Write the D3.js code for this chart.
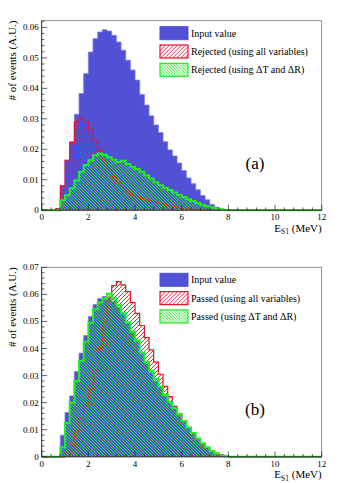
<!DOCTYPE html>
<html>
<head>
<meta charset="utf-8">
<script src="https://cdn.jsdelivr.net/npm/d3@7"></script>
<style>
  body { margin: 0; background: #fff; }
  svg { display: block; }
</style>
</head>
<body>
<div id="chart"></div>
<script>
// bins of 0.2 MeV from 0 to 12 MeV; values listed for the first 40 bins (0-8 MeV), rest empty
var binWidth = 0.2;
var nBins = 60;

var inputValue = [0, 0, 0, 0, 0.008, 0.0164, 0.0225, 0.0315, 0.0383, 0.0448,
  0.0519, 0.0563, 0.0585, 0.0592, 0.0588, 0.0574, 0.0552, 0.0525, 0.0492, 0.046,
  0.0427, 0.038, 0.0345, 0.031, 0.028, 0.0255, 0.0225, 0.0198, 0.0178, 0.0155,
  0.013, 0.0106, 0.0087, 0.0067, 0.0048, 0.0034, 0.0019, 0.001, 0.0004, 0.0001];

var rejectedAll = [0, 0, 0, 0.0005, 0.008, 0.0164, 0.0222, 0.029, 0.0303, 0.029,
  0.0265, 0.023, 0.0195, 0.0165, 0.0135, 0.011, 0.009, 0.0075, 0.0062, 0.0052,
  0.0045, 0.0039, 0.0034, 0.003, 0.0026, 0.0022, 0.0018, 0.0014, 0.0011, 0.0008,
  0.0006, 0.0004, 0.0003, 0.0002, 0.0001, 0, 0, 0, 0, 0];

var rejectedDTDR = [0, 0, 0, 0, 0.0033, 0.0049, 0.0072, 0.0098, 0.0126, 0.0148,
  0.0164, 0.018, 0.0186, 0.0182, 0.0174, 0.0166, 0.0158, 0.0162, 0.0152, 0.0143,
  0.0135, 0.0126, 0.0115, 0.0104, 0.0092, 0.0082, 0.0074, 0.0066, 0.0058, 0.005,
  0.0043, 0.0036, 0.003, 0.0024, 0.0018, 0.0013, 0.0009, 0.0005, 0.0003, 0.0001];

var passedAll = [0, 0, 0, 0, 0, 0.0015, 0.0045, 0.0095, 0.014, 0.019,
  0.025, 0.032, 0.04, 0.0495, 0.059, 0.0632, 0.0647, 0.0635, 0.061, 0.057,
  0.053, 0.0485, 0.044, 0.0395, 0.035, 0.0305, 0.026, 0.0222, 0.0186, 0.0158,
  0.013, 0.0105, 0.0083, 0.0064, 0.0047, 0.0033, 0.0022, 0.0013, 0.0007, 0.0003];

var passedDTDR = [0, 0, 0, 0, 0.0035, 0.0125, 0.02, 0.028, 0.0355, 0.0425,
  0.0495, 0.0545, 0.057, 0.0585, 0.0602, 0.0585, 0.056, 0.053, 0.0497, 0.0462,
  0.043, 0.0385, 0.035, 0.0318, 0.0287, 0.026, 0.023, 0.0203, 0.018, 0.0157,
  0.0132, 0.0108, 0.0088, 0.0068, 0.005, 0.0035, 0.0021, 0.0012, 0.0005, 0.0002];

var xTicks = [0, 2, 4, 6, 8, 10, 12];

var panels = [
  {top: 20.7, ymax: 0.0622, yTicks: [0, 0.01, 0.02, 0.03, 0.04, 0.05, 0.06], tag: "(a)",
   series: [inputValue, rejectedAll, rejectedDTDR],
   labels: ["Input value", "Rejected (using all variables)", "Rejected (using \u0394T and \u0394R)"]},
  {top: 267.3, ymax: 0.07, yTicks: [0, 0.01, 0.02, 0.03, 0.04, 0.05, 0.06, 0.07], tag: "(b)",
   series: [inputValue, passedAll, passedDTDR],
   labels: ["Input value", "Passed (using all variables)", "Passed (using \u0394T and \u0394R)"]}
];

var width = 355, height = 483;
var left = 41.7, right = 321.7, plotH = 189.5;
var blue = "#5151d6", red = "#e8132e", green = "#22ec22";
var serif = "'Liberation Serif', 'Times New Roman', 'DejaVu Serif', serif";

var svg = d3.select("#chart").append("svg")
  .attr("width", width)
  .attr("height", height)
  .attr("font-family", serif)
  .style("font-family", serif);

// hatch patterns
var defs = svg.append("defs");
var pr = defs.append("pattern").attr("id", "hatchRed")
  .attr("patternUnits", "userSpaceOnUse").attr("width", 4).attr("height", 4);
pr.append("path").attr("d", "M-1,1 L1,-1 M0,4 L4,0 M3,5 L5,3")
  .attr("stroke", red).attr("stroke-width", 0.9).attr("fill", "none");
var pg = defs.append("pattern").attr("id", "hatchGreen")
  .attr("patternUnits", "userSpaceOnUse").attr("width", 3).attr("height", 3);
[0, 1, 2].forEach(function(k) {
  pg.append("rect").attr("x", k).attr("y", k).attr("width", 1).attr("height", 1)
    .attr("fill", green).attr("shape-rendering", "crispEdges");
});

var x = d3.scaleLinear().domain([0, 12]).range([left, right]);

function binData(vals) {
  var pts = d3.range(nBins).map(function(i) {
    return {x0: i * binWidth, v: vals[i] || 0};
  });
  pts.push({x0: 12, v: pts[pts.length - 1].v});
  return pts;
}

var styles = [
  {fill: blue, stroke: "#7a7ae0", sw: 0.8},
  {fill: "url(#hatchRed)", stroke: red, sw: 1.2},
  {fill: "url(#hatchGreen)", stroke: green, sw: 2}
];

panels.forEach(function(p) {
  var bottom = p.top + plotH;
  var y = d3.scaleLinear().domain([0, p.ymax]).range([bottom, p.top]);
  var g = svg.append("g");

  var area = d3.area().curve(d3.curveStepAfter)
    .x(function(d) { return x(d.x0); })
    .y0(y(0))
    .y1(function(d) { return y(d.v); });
  var line = d3.line().curve(d3.curveStepAfter)
    .x(function(d) { return x(d.x0); })
    .y(function(d) { return y(d.v); });

  p.series.forEach(function(vals, k) {
    var data = binData(vals);
    g.append("path").datum(data).attr("d", area).attr("fill", styles[k].fill);
    g.append("path").datum(data).attr("d", line)
      .attr("fill", "none").attr("stroke", styles[k].stroke)
      .attr("stroke-width", styles[k].sw);
  });

  // frame
  g.append("rect").attr("x", left).attr("y", p.top)
    .attr("width", right - left).attr("height", plotH)
    .attr("fill", "none").attr("stroke", "#777").attr("stroke-width", 0.8);
  g.append("line").attr("x1", left).attr("x2", left).attr("y1", p.top).attr("y2", bottom)
    .attr("stroke", "#222").attr("stroke-width", 0.8);
  g.append("line").attr("x1", left).attr("x2", right).attr("y1", bottom).attr("y2", bottom)
    .attr("stroke", "#222").attr("stroke-width", 0.8);

  // y ticks
  var yMinor = d3.range(0, p.ymax + 1e-9, 0.002);
  g.selectAll(".ym").data(yMinor).enter().append("line")
    .attr("x1", left).attr("x2", function(d, i) { return left + (i % 5 === 0 ? 5.5 : 2.8); })
    .attr("y1", function(d) { return y(d); }).attr("y2", function(d) { return y(d); })
    .attr("stroke", "#222").attr("stroke-width", 0.7);
  g.selectAll(".yl").data(p.yTicks).enter().append("text")
    .attr("x", left - 3).attr("y", function(d) { return y(d) + 3; })
    .attr("text-anchor", "end").attr("font-size", 9)
    .text(function(d) { return d === 0 ? "0" : d.toFixed(2); });

  // x ticks
  var xMinor = d3.range(0, 12.001, 0.4);
  g.selectAll(".xm").data(xMinor).enter().append("line")
    .attr("x1", function(d) { return x(d); }).attr("x2", function(d) { return x(d); })
    .attr("y1", bottom).attr("y2", function(d, i) { return bottom - (i % 5 === 0 ? 5.5 : 2.8); })
    .attr("stroke", "#222").attr("stroke-width", 0.7);
  g.selectAll(".xl").data(xTicks).enter().append("text")
    .attr("x", function(d) { return x(d); }).attr("y", bottom + 10)
    .attr("text-anchor", "middle").attr("font-size", 9)
    .text(function(d) { return d; });

  // axis titles
  g.append("text")
    .attr("transform", "translate(16," + p.top + ") rotate(-90)")
    .attr("text-anchor", "end").attr("font-size", 11)
    .text("# of events (A.U.)");
  var xt = g.append("text").attr("x", right).attr("y", bottom + 21.5)
    .attr("text-anchor", "end").attr("font-size", 11);
  xt.append("tspan").text("E");
  xt.append("tspan").attr("font-size", 7.5).attr("dy", 2.5).text("S1");
  xt.append("tspan").attr("dy", -2.5).text(" (MeV)");

  g.append("text").attr("x", 255).attr("y", p.top + 148)
    .attr("text-anchor", "middle").attr("font-size", 17).text(p.tag);

  // legend
  var lg = g.append("g").attr("transform", "translate(160," + (p.top + 6) + ")");
  p.labels.forEach(function(lab, k) {
    var ly = k * 18.3;
    lg.append("rect").attr("x", 0).attr("y", ly).attr("width", 28).attr("height", 13)
      .attr("fill", k === 0 ? blue : "#fff")
      .attr("stroke", k === 0 ? blue : "none");
    if (k > 0) {
      lg.append("rect").attr("x", 0).attr("y", ly).attr("width", 28).attr("height", 13)
        .attr("fill", styles[k].fill).attr("stroke", styles[k].stroke).attr("stroke-width", 1.2);
    }
    lg.append("text").attr("x", 31).attr("y", ly + 10).attr("font-size", 10).text(lab);
  });
});
</script>
</body>
</html>
